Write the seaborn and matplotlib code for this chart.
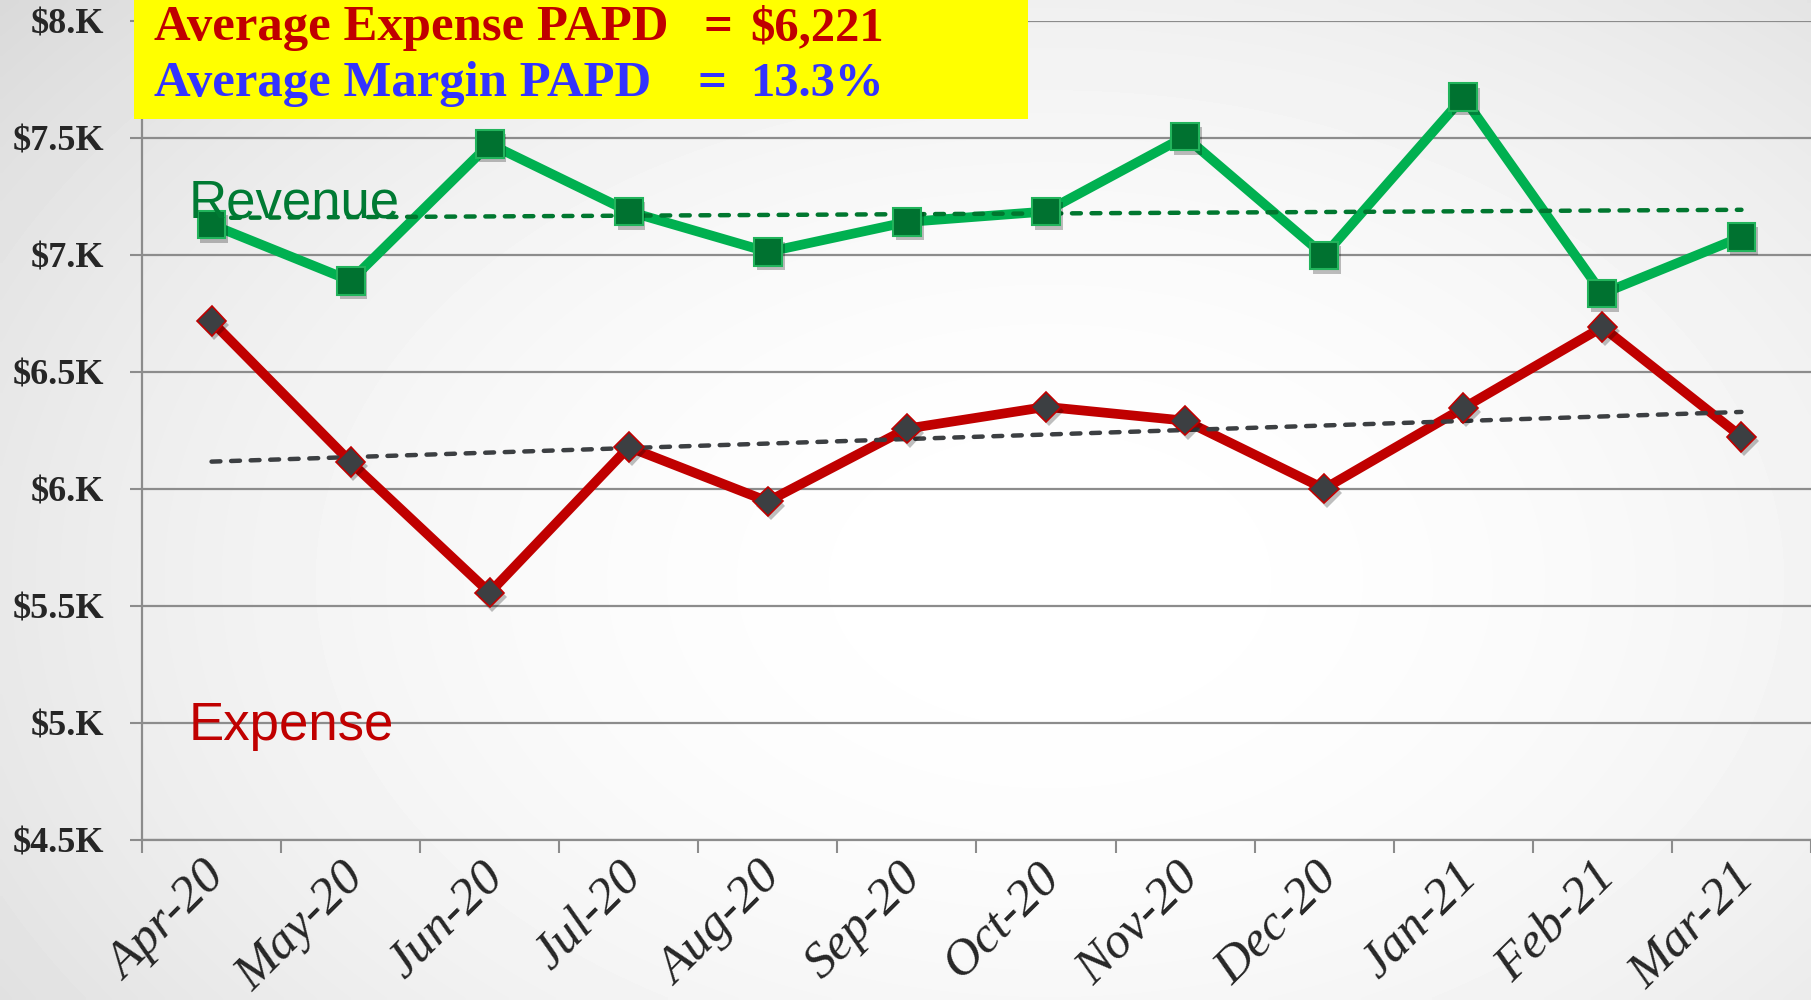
import numpy as np
import pandas as pd
import matplotlib
matplotlib.use("Agg")
import matplotlib.pyplot as plt
import matplotlib.patheffects as pe
from matplotlib.patches import Rectangle
from matplotlib.ticker import FixedLocator, NullFormatter, FixedFormatter
import seaborn as sns

# ---------------- data ----------------
months = ["Apr-20", "May-20", "Jun-20", "Jul-20", "Aug-20", "Sep-20",
          "Oct-20", "Nov-20", "Dec-20", "Jan-21", "Feb-21", "Mar-21"]
revenue = [7130, 6890, 7475, 7186, 7013, 7141, 7186, 7506, 6998, 7674, 6835, 7077]
expense = [6717, 6115, 5557, 6179, 5947, 6258, 6351, 6292, 6001, 6346, 6692, 6223]
ytick_values = [4500, 5000, 5500, 6000, 6500, 7000, 7500, 8000]
ytick_labels = ["$4.5K", "$5.K", "$5.5K", "$6.K", "$6.5K", "$7.K", "$7.5K", "$8.K"]
box_line1 = ["Average Expense PAPD", "=", "$6,221"]
box_line2 = ["Average Margin PAPD", "=", "13.3%"]
series_labels = ["Revenue", "Expense"]

# ---------------- style ----------------
sns.set_style("white")
plt.rcParams["font.family"] = ["Liberation Serif", "DejaVu Serif"]

W, H = 1811, 1000
fig = plt.figure(figsize=(W / 100, H / 100), dpi=100)

# background gradient
bg = fig.add_axes([0, 0, 1, 1], zorder=-10)
gx = np.linspace(0, 1, 400)
gy = np.linspace(0, 1, 220)
GX, GY = np.meshgrid(gx, gy)
d = np.sqrt(((GX - 0.58) / 0.62) ** 2 + ((GY - 0.42) / 0.75) ** 2)
val = 1 - 0.10 * np.clip(d, 0, 1.5) ** 2
bg.imshow(val, cmap="gray", vmin=0, vmax=1, extent=[0, 1, 0, 1],
          origin="lower", aspect="auto", interpolation="bilinear")
bg.axis("off")

ax = fig.add_axes([142 / W, 160 / H, 1 - 142 / W, 819 / H])
ax.set_facecolor("none")

pos = np.arange(len(months))
df = pd.DataFrame({"pos": pos, "Revenue": revenue, "Expense": expense})

rev_fit = np.polyval(np.polyfit(pos, revenue, 1), pos)
exp_fit = np.polyval(np.polyfit(pos, expense, 1), pos)

shadow = [pe.SimplePatchShadow(offset=(2, -3), shadow_rgbFace="k", alpha=0.25), pe.Normal()]

# main lines
sns.lineplot(data=df, x="pos", y="Revenue", ax=ax, color="#00B050", lw=7, zorder=3)
sns.lineplot(data=df, x="pos", y="Expense", ax=ax, color="#C00000", lw=7, zorder=3)

# trend lines
sns.lineplot(x=pos, y=rev_fit, ax=ax, color="#00772F", lw=3.2,
             linestyle=(0, (2.0, 2.4)), dash_capstyle="round", zorder=4)
sns.lineplot(x=pos, y=exp_fit, ax=ax, color="#3C3F42", lw=3.2,
             linestyle=(0, (2.0, 2.4)), dash_capstyle="round", zorder=4)

# markers
sns.lineplot(data=df, x="pos", y="Revenue", ax=ax, marker="s", ms=20,
             mfc="#007230", mec="#22B45C", mew=1.5, linestyle="none", zorder=5)
ax.lines[-1].set_path_effects(shadow)
sns.lineplot(data=df, x="pos", y="Expense", ax=ax, marker="D", ms=15,
             mfc="#3C3F42", mec="#C00000", mew=1.2, linestyle="none", zorder=5)
ax.lines[-1].set_path_effects(shadow)

# series labels
ax.text(-0.165, 7162, series_labels[0], color="#007A33", fontsize=38,
        family=["Liberation Sans", "DejaVu Sans"], va="baseline", ha="left", zorder=6)
ax.text(-0.165, 4927, series_labels[1], color="#C00000", fontsize=38,
        family=["Liberation Sans", "DejaVu Sans"], va="baseline", ha="left", zorder=6)

# axes
ax.set_xlim(-0.5, 11.5)
ax.set_ylim(4500, 8000)
ax.set_xlabel("")
ax.set_ylabel("")
ax.xaxis.set_major_locator(FixedLocator(np.arange(-0.5, 12, 1)))
ax.xaxis.set_major_formatter(NullFormatter())
ax.xaxis.set_minor_locator(FixedLocator(pos - 0.07))
ax.xaxis.set_minor_formatter(FixedFormatter(months))
ax.tick_params(axis="x", which="major", bottom=True, length=9, width=1.5,
               color="#8C8C8C", direction="out")
ax.tick_params(axis="x", which="minor", bottom=True, length=0, pad=10, labelsize=37)
for lbl in ax.get_xticklabels(minor=True):
    lbl.set_rotation(45)
    lbl.set_ha("right")
    lbl.set_rotation_mode("anchor")
    lbl.set_fontstyle("italic")

ax.set_yticks(ytick_values)
ax.set_yticklabels(ytick_labels, fontsize=26, fontweight="bold")
ax.tick_params(axis="y", left=True, length=9, width=1.5, color="#8C8C8C",
               direction="out", pad=18)
ax.grid(axis="y", color="#8C8C8C", lw=1.6)
ax.grid(axis="x", visible=False)
ax.set_axisbelow(True)
for s in ["top", "right"]:
    ax.spines[s].set_visible(False)
for s in ["left", "bottom"]:
    ax.spines[s].set_color("#8C8C8C")
    ax.spines[s].set_linewidth(1.6)

# yellow annotation box
fig.add_artist(Rectangle((134 / W, 1 - 119 / H), 894 / W, 119 / H,
                         transform=fig.transFigure, facecolor="#FFFF00",
                         edgecolor="none", zorder=10))
for line, color, yb, xeq in [(box_line1, "#C00000", 1 - 40 / H, 718 / W),
                             (box_line2, "#3333FF", 1 - 96 / H, 712 / W)]:
    fig.text(154 / W, yb, line[0], color=color, fontsize=36.5, fontweight="bold",
             va="baseline", ha="left", zorder=11)
    fig.text(xeq, yb, line[1], color=color, fontsize=36.5, fontweight="bold",
             va="baseline", ha="center", zorder=11)
    fig.text(884 / W, yb, line[2], color=color, fontsize=35, fontweight="bold",
             va="baseline", ha="right", zorder=11)

fig.savefig("out.png", dpi=100)
